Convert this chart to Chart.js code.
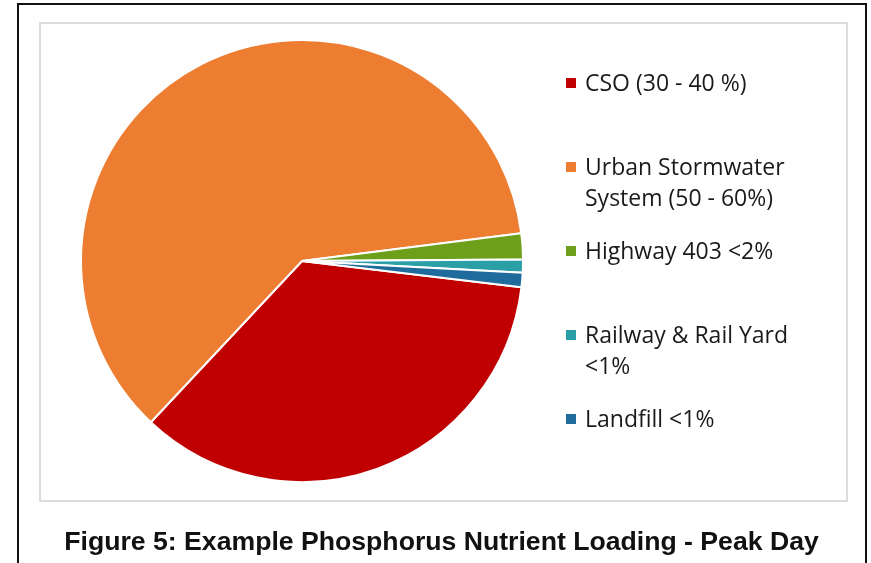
<!DOCTYPE html>
<html>
<head>
<meta charset="utf-8">
<script src="https://cdn.jsdelivr.net/npm/chart.js@4"></script>
<style>
  html, body { margin: 0; padding: 0; background: #fff; }
  #page { position: relative; width: 871px; height: 563px; overflow: hidden; }
  #frame { position: absolute; left: 17px; top: 3px; width: 846px; height: 600px; border: 2px solid #111; }
  #box { position: absolute; left: 39px; top: 22px; width: 805px; height: 476px; border: 2px solid #dcdcdc; }
  #wrap { position: absolute; left: 0; top: 0; width: 871px; height: 563px; }
  #legend { position: absolute; left: 566px; top: 67px; margin: 0; padding: 0; list-style: none;
            font-family: "Open Sans", sans-serif; font-size: 23px; color: #1a1a1a; }
  #legend li { position: relative; height: 84px; }
  #legend .sw { position: absolute; left: 0; top: 11px; width: 10px; height: 10px; }
  #legend .tx { position: absolute; left: 19px; top: 0; line-height: 31px; white-space: nowrap; }
  #caption { position: absolute; left: 6px; width: 871px; top: 527px; text-align: center;
             font-family: "Liberation Sans", Arial, sans-serif; font-weight: bold; font-size: 25px; color: #111;
             transform: scaleX(1.065); transform-origin: 435px 0; }
</style>
</head>
<body>
<div id="page">
  <div id="frame"></div>
  <div id="box"></div>
  <div id="wrap"><canvas id="pieChart"></canvas></div>
  <ul id="legend"></ul>
  <div id="caption">Figure 5: Example Phosphorus Nutrient Loading - Peak Day</div>
</div>
<script>
// 범주 (legend text, one array per line)
const categories = [
  ['CSO (30 - 40 %)'],
  ['Urban Stormwater', 'System (50 - 60%)'],
  ['Highway 403 <2%'],
  ['Railway & Rail Yard', '<1%'],
  ['Landfill <1%']
];
// share of peak-day loading
const loading = [35.1, 61.0, 1.9, 0.95, 1.05];
const colors = ['#C00000', '#ED7D31', '#6E9F1A', '#2AA0A6', '#1F6B9B'];

// html legend
const htmlLegend = {
  id: 'htmlLegend',
  afterUpdate(chart) {
    const ul = document.getElementById('legend');
    ul.innerHTML = '';
    const items = chart.options.plugins.legend.labels.generateLabels(chart);
    items.forEach(item => {
      const li = document.createElement('li');
      const sw = document.createElement('span');
      sw.className = 'sw';
      sw.style.background = item.fillStyle;
      const tx = document.createElement('span');
      tx.className = 'tx';
      const lines = [].concat(item.text);
      lines.forEach((line, i) => {
        if (i) tx.appendChild(document.createElement('br'));
        tx.appendChild(document.createTextNode(line));
      });
      li.appendChild(sw);
      li.appendChild(tx);
      ul.appendChild(li);
    });
  }
};

const ctx = document.getElementById('pieChart').getContext('2d');
new Chart(ctx, {
  type: 'pie',
  data: {
    labels: categories,
    datasets: [{
      data: loading,
      backgroundColor: colors,
      borderColor: '#ffffff',
      borderWidth: 2
    }]
  },
  options: {
    responsive: true,
    maintainAspectRatio: false,
    animation: false,
    rotation: 96.8,
    layout: { padding: { left: 80, top: 39, right: 347, bottom: 80 } },
    plugins: {
      legend: { display: false },
      tooltip: { enabled: false }
    }
  },
  plugins: [htmlLegend]
});
</script>
</body>
</html>
